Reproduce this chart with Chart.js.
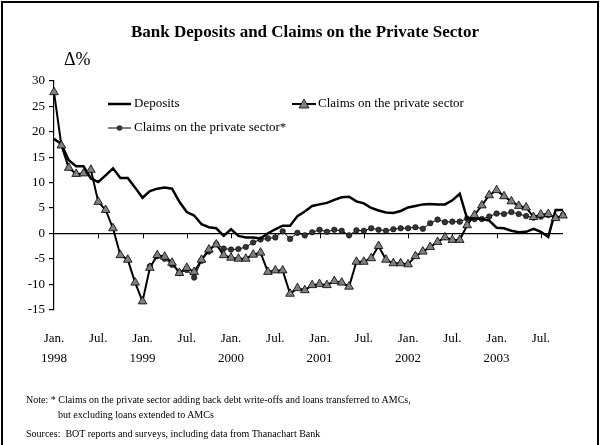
<!DOCTYPE html>
<html lang="en">
<head>
    <meta charset="UTF-8">
    <title>Bank Deposits and Claims on the Private Sector</title>
    <script src="https://cdn.jsdelivr.net/npm/chart.js"></script>
    <style>
        body {
            margin: 0;
            background: #fff;
            font-family: "Liberation Serif", "Times New Roman", serif;
            color: #000;
        }
        .frame {
            position: absolute;
            left: 1px;
            top: 1px;
            width: 594px;
            height: 460px;
            border: 2px solid #000;
        }
        #chart {
            position: absolute;
            left: 0;
            top: 0;
        }
        .title {
            position: absolute;
            left: 0;
            width: 610px;
            top: 22px;
            text-align: center;
            font-weight: bold;
            font-size: 17px;
        }
        .unit {
            position: absolute;
            left: 64px;
            top: 49px;
            font-size: 18px;
        }
        .legend-item {
            position: absolute;
            font-size: 13px;
            line-height: 16px;
            white-space: nowrap;
        }
        .legend-item svg {
            vertical-align: middle;
            margin-right: 2px;
        }
        .note {
            position: absolute;
            left: 26px;
            font-size: 10px;
            white-space: nowrap;
        }
    </style>
</head>
<body>
    <div class="frame"></div>
    <canvas id="chart" width="600" height="445"></canvas>
    <div class="title">Bank Deposits and Claims on the Private Sector</div>
    <div class="unit">&Delta;%</div>

    <div class="legend-item" style="left:108px; top:95px;">
        <svg width="24" height="10"><line x1="0" y1="5" x2="23" y2="5" stroke="#000" stroke-width="2.5"/></svg>Deposits
    </div>
    <div class="legend-item" style="left:292px; top:95px;">
        <svg width="24" height="12"><line x1="0" y1="6" x2="24" y2="6" stroke="#000" stroke-width="2"/><polygon points="12,1 17,10 7,10" fill="#808080" stroke="#000" stroke-width="0.8"/></svg>Claims on the private sector
    </div>
    <div class="legend-item" style="left:108px; top:119px;">
        <svg width="24" height="10"><line x1="0" y1="5" x2="23" y2="5" stroke="#000" stroke-width="1"/><circle cx="11.5" cy="5" r="2.8" fill="#333"/></svg>Claims on the private sector*
    </div>

    <div class="note" style="top:394px;">Note: * Claims on the private sector adding back debt write-offs and loans transferred to AMCs,</div>
    <div class="note" style="top:409px; left:58px;">but excluding loans extended to AMCs</div>
    <div class="note" style="top:428px;">Sources:&nbsp; BOT reports and surveys, including data from Thanachart Bank</div>

    <script>
        // monthly, Jan 1998 - Oct 2003
        const categories = [
            '1998-01','1998-02','1998-03','1998-04','1998-05','1998-06','1998-07','1998-08','1998-09','1998-10','1998-11','1998-12',
            '1999-01','1999-02','1999-03','1999-04','1999-05','1999-06','1999-07','1999-08','1999-09','1999-10','1999-11','1999-12',
            '2000-01','2000-02','2000-03','2000-04','2000-05','2000-06','2000-07','2000-08','2000-09','2000-10','2000-11','2000-12',
            '2001-01','2001-02','2001-03','2001-04','2001-05','2001-06','2001-07','2001-08','2001-09','2001-10','2001-11','2001-12',
            '2002-01','2002-02','2002-03','2002-04','2002-05','2002-06','2002-07','2002-08','2002-09','2002-10','2002-11','2002-12',
            '2003-01','2003-02','2003-03','2003-04','2003-05','2003-06','2003-07','2003-08','2003-09','2003-10'
        ];

        // shown every 6 months
        const tickLabels = [
            ['Jan.', '1998'], 'Jul.', ['Jan.', '1999'], 'Jul.', ['Jan.', '2000'], 'Jul.',
            ['Jan.', '2001'], 'Jul.', ['Jan.', '2002'], 'Jul.', ['Jan.', '2003'], 'Jul.'
        ];
        const tickEvery = 6;

        const deposits = [
            18.6, 17.6, 14.4, 13.2, 13.2, 10.8, 10.1, 11.4, 12.8, 10.9, 10.9, 9.0,
            7.0, 8.3, 8.8, 9.0, 8.8, 6.2, 4.2, 3.5, 1.8, 1.2, 1.0, -0.5,
            0.8, -0.5, -0.8, -0.8, -1.0, 0.0, 0.8, 1.5, 1.5, 3.4, 4.3, 5.4,
            5.7, 6.0, 6.6, 7.1, 7.2, 6.3, 5.9, 5.0, 4.5, 4.1, 4.0, 4.4,
            5.1, 5.4, 5.7, 5.8, 5.7, 5.7, 6.5, 7.8, 2.9, 2.9, 2.8, 2.5,
            1.1, 1.0, 0.5, 0.2, 0.3, 0.9, 0.3, -0.7, 4.6, 4.6
        ];

        const claims = [
            27.8, 17.3, 12.9, 11.7, 11.8, 12.5, 6.2, 4.6, 1.0, -4.3, -5.2, -9.7,
            -13.4, -6.8, -4.3, -4.6, -5.8, -7.8, -6.8, -7.6, -5.2, -3.2, -2.2, -4.3,
            -4.8, -5.0, -5.0, -4.2, -3.8, -7.6, -7.3, -7.3, -11.9, -10.8, -11.2, -10.2,
            -10.0, -10.2, -9.4, -9.7, -10.5, -5.6, -5.6, -4.9, -2.5, -5.2, -5.9, -5.9,
            -6.1, -4.5, -3.6, -2.7, -1.7, -0.8, -1.3, -1.3, 1.6, 3.6, 5.5, 7.5,
            8.5, 7.3, 6.3, 5.4, 5.1, 3.2, 3.7, 3.8, 3.0, 3.5
        ];

        const claimsAdj = [
            null, null, null, null, null, null, null, null, null, null, null, null,
            null, -6.5, -4.5, -5.0, -6.2, -7.8, -7.2, -8.7, -5.4, -3.6, -2.1, -3.0,
            -3.2, -3.1, -2.7, -1.8, -1.2, -1.0, -0.8, 0.4, -1.1, 0.1, -0.4, 0.2,
            0.7, 0.3, 0.7, 0.5, -0.4, 0.6, 0.5, 1.0, 0.7, 0.5, 0.8, 1.0,
            1.0, 1.2, 0.9, 2.0, 2.7, 2.2, 2.3, 2.3, 2.9, 2.8, 2.8, 3.3,
            3.9, 3.8, 4.2, 3.8, 3.4, 3.1, 3.3, 3.6, 3.1, 3.6
        ];

        const serif = '"Liberation Serif", "Times New Roman", serif';

        // small tick marks sitting on the zero line, like the original
        const zeroLineTicks = {
            id: 'zeroLineTicks',
            beforeDatasetsDraw(chart) {
                const { ctx, scales: { x, y } } = chart;
                const y0 = y.getPixelForValue(0);
                ctx.save();
                ctx.strokeStyle = '#000';
                ctx.lineWidth = 1;
                categories.forEach((c, i) => {
                    if (i > 0 && i % tickEvery === 0) {
                        const px = Math.round(x.getPixelForValue(i)) + 0.5;
                        ctx.beginPath();
                        ctx.moveTo(px, y0);
                        ctx.lineTo(px, y0 + 5);
                        ctx.stroke();
                    }
                });
                ctx.restore();
            }
        };

        new Chart(document.getElementById('chart'), {
            type: 'line',
            data: {
                labels: categories,
                datasets: [
                    {
                        label: 'Claims on the private sector',
                        data: claims,
                        borderColor: '#000',
                        borderWidth: 2,
                        pointStyle: 'triangle',
                        pointRadius: 5,
                        pointBackgroundColor: '#808080',
                        pointBorderColor: '#000',
                        pointBorderWidth: 0.8,
                        tension: 0,
                        order: 0
                    },
                    {
                        label: 'Deposits',
                        data: deposits,
                        borderColor: '#000',
                        borderWidth: 2.5,
                        pointRadius: 0,
                        tension: 0,
                        order: 1
                    },
                    {
                        label: 'Claims on the private sector*',
                        data: claimsAdj,
                        borderColor: '#000',
                        borderWidth: 1,
                        pointStyle: 'circle',
                        pointRadius: 2.8,
                        pointBackgroundColor: '#333',
                        pointBorderColor: '#000',
                        pointBorderWidth: 0.5,
                        tension: 0,
                        order: 2
                    }
                ]
            },
            options: {
                responsive: false,
                animation: false,
                devicePixelRatio: 1,
                layout: { padding: { top: 81, right: 37, left: 0, bottom: 0 } },
                plugins: {
                    legend: { display: false },
                    tooltip: { enabled: false },
                    title: { display: false }
                },
                scales: {
                    x: {
                        type: 'category',
                        offset: false,
                        grid: { display: false },
                        border: { display: false },
                        ticks: {
                            autoSkip: false,
                            maxRotation: 0,
                            padding: 11,
                            color: '#000',
                            font: { family: serif, size: 13, lineHeight: 1.55 },
                            callback: (value, index) => index % tickEvery === 0 ? tickLabels[index / tickEvery] : null
                        },
                        afterFit: (scale) => { scale.height = 135.5; }
                    },
                    y: {
                        min: -15,
                        max: 30,
                        grid: {
                            drawOnChartArea: true,
                            color: (c) => c.tick && c.tick.value === 0 ? '#000' : 'rgba(0,0,0,0)',
                            lineWidth: 1.2,
                            tickColor: '#000',
                            tickLength: 5
                        },
                        border: { display: true, color: '#000', width: 1.2 },
                        ticks: {
                            stepSize: 5,
                            padding: 4,
                            color: '#000',
                            font: { family: serif, size: 13 }
                        },
                        afterFit: (scale) => { scale.width = 54; }
                    }
                }
            },
            plugins: [zeroLineTicks]
        });
    </script>
</body>
</html>
